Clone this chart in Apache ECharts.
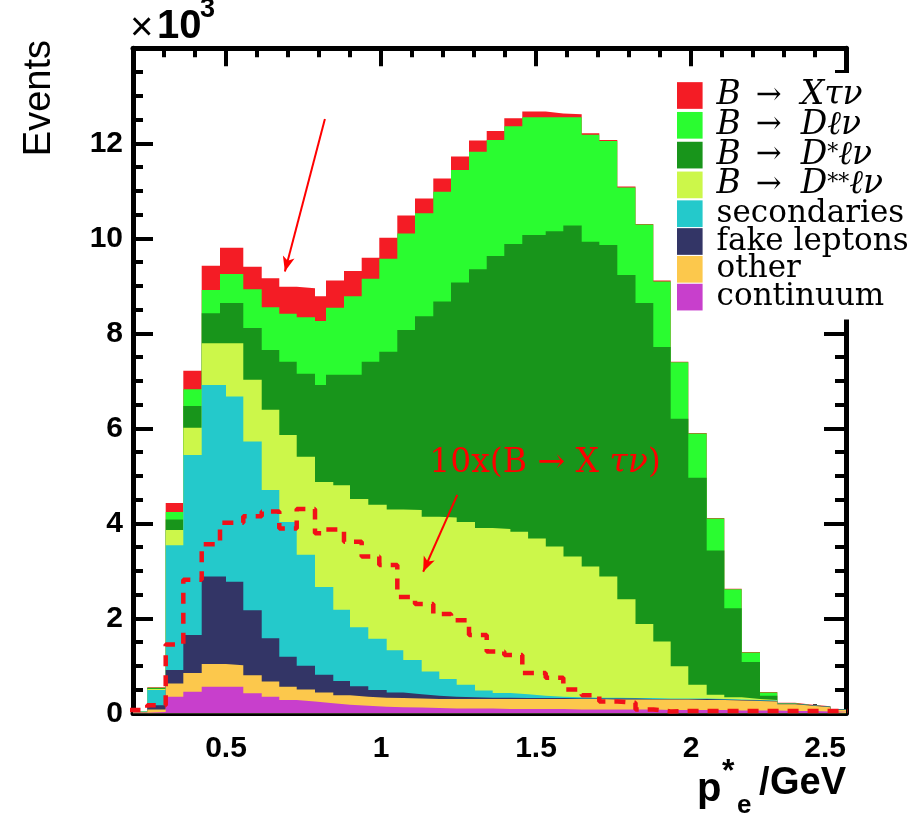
<!DOCTYPE html>
<html><head><meta charset="utf-8">
<script src="https://cdn.jsdelivr.net/npm/echarts@6/dist/echarts.min.js"></script>
<style>html,body{margin:0;padding:0;background:#fff}#c{width:921px;height:821px}</style>
</head><body><div id="c"></div>
<script>
// Bin edges (GeV): upper components (tau, D, D*) and lower components
const edgesUpper = [0.1887,0.2461,0.3055,0.3623,0.4216,0.4806,0.5558,0.6152,0.6719,0.7281,0.7871,0.8226,0.8806,0.9377,0.9945,1.0526,1.1097,1.1687,1.2258,1.2839,1.3410,1.3977,1.4558,1.5313,1.5881,1.6474,1.7042,1.7623,1.8210,1.8784,1.9345,1.9913,2.0506,2.1074,2.1635,2.2226,2.2784,2.3355,2.3926,2.4497,2.5065];
const edgesLower = [0.1887,0.2461,0.3055,0.3623,0.4216,0.5000,0.5558,0.6152,0.6719,0.7281,0.7871,0.8461,0.9000,0.9590,1.0184,1.0719,1.1313,1.1881,1.2442,1.3032,1.3603,1.4174,1.4745,1.5316,1.5887,1.6474,1.7042,1.7623,1.8210,1.8784,1.9345,1.9913,2.0506,2.1074,2.1635,2.2226,2.2784,2.3355,2.3926,2.4497,2.5065];

// Stack tops (events x 10^3)
const topTau   = [0.05,0.55,4.43,7.21,9.42,9.80,9.40,9.16,8.98,8.95,8.78,9.11,9.31,9.59,10.01,10.48,10.84,11.26,11.72,12.06,12.26,12.53,12.67,12.63,12.61,12.21,12.07,11.09,10.30,9.11,7.40,5.90,4.11,2.62,1.29,0.45,0.22,0.18,0.15,0.09];
const topD     = [0.05,0.54,4.24,6.82,8.91,9.25,8.93,8.55,8.41,8.34,8.26,8.54,8.78,9.15,9.57,10.10,10.53,10.98,11.44,11.82,12.07,12.36,12.55,12.55,12.55,12.18,12.05,11.07,10.29,9.09,7.39,5.89,4.10,2.61,1.28,0.44,0.21,0.17,0.14,0.08];
const topDstar = [0.05,0.53,4.08,6.47,8.42,8.64,8.11,7.65,7.40,7.15,6.91,7.13,7.13,7.40,7.61,8.07,8.36,8.67,9.07,9.35,9.63,9.88,10.07,10.15,10.27,9.93,9.86,9.23,8.64,7.71,6.20,4.96,3.43,2.21,1.08,0.37,0.20,0.16,0.13,0.08];
const topDss   = [0.045,0.51,3.86,6.01,7.79,7.79,7.02,6.39,5.86,5.40,4.87,4.80,4.51,4.39,4.29,4.28,4.14,4.12,4.03,3.90,3.88,3.82,3.68,3.51,3.30,3.09,2.88,2.40,1.88,1.51,0.99,0.60,0.39,0.34,0.30,0.28,0.20,0.17,0.14,0.08];
const topSec   = [0.04,0.49,3.54,5.44,6.91,6.67,5.72,4.70,4.03,3.34,2.66,2.18,1.81,1.57,1.33,1.12,0.88,0.72,0.60,0.48,0.43,0.40,0.37,0.35,0.34,0.33,0.33,0.32,0.32,0.31,0.31,0.31,0.30,0.29,0.28,0.27,0.20,0.17,0.14,0.08];
const topFake  = [0.03,0.17,0.91,1.65,2.88,2.77,2.17,1.58,1.19,1.00,0.81,0.68,0.57,0.49,0.44,0.40,0.37,0.35,0.34,0.33,0.33,0.32,0.32,0.32,0.31,0.31,0.31,0.31,0.30,0.30,0.30,0.30,0.29,0.28,0.27,0.26,0.20,0.17,0.14,0.08];
const topOther = [0.02,0.08,0.63,0.85,1.04,1.01,0.80,0.67,0.56,0.50,0.44,0.38,0.35,0.33,0.32,0.31,0.30,0.30,0.30,0.30,0.30,0.30,0.30,0.30,0.30,0.30,0.29,0.29,0.29,0.29,0.29,0.28,0.28,0.27,0.26,0.25,0.19,0.16,0.13,0.07];
const topCont  = [0.01,0.03,0.35,0.455,0.56,0.56,0.42,0.35,0.28,0.25,0.21,0.18,0.16,0.14,0.13,0.12,0.11,0.10,0.10,0.10,0.09,0.09,0.09,0.09,0.08,0.08,0.08,0.08,0.08,0.07,0.07,0.07,0.07,0.06,0.06,0.06,0.05,0.05,0.04,0.03];
// 10 x (B -> X tau nu), dashed
const tau10x   = [0.07,0.17,1.45,2.81,3.56,4.01,4.15,4.25,3.89,4.30,3.79,3.87,3.61,3.30,3.12,2.45,2.30,2.09,1.96,1.65,1.30,1.23,0.85,0.75,0.50,0.38,0.25,0.22,0.08,0.04,0.05,0.05,0.05,0.05,0.05,0.05,0.05,0.05,0.05,0.05];

const names  = ['B → Xτν','B → Dℓν','B → D*ℓν','B → D**ℓν','secondaries','fake leptons','other','continuum'];
const colors = ['#f41c25','#2afc30','#18951b','#ccf74a','#24c9cb','#333566','#fcc84c','#c83fcc'];
const tops   = [topTau, topD, topDstar, topDss, topSec, topFake, topOther, topCont];
const edgeOf = [edgesUpper, edgesUpper, edgesUpper, edgesLower, edgesLower, edgesLower, edgesLower, edgesLower];
const xLabelValues = [0.5, 1, 1.5, 2, 2.5];
const xMajorTickValues = [0.5, 1, 1.5, 2];

function stepData(edges, vals) {
  const d = vals.map((v, i) => [edges[i], v]);
  d.push([edges[vals.length], vals[vals.length - 1]]);
  return d;
}

const LH = 26;
const legendRich = {
  m:  {fontFamily:'DejaVu Serif', fontStyle:'italic', fontSize:33, color:'#000', lineHeight:LH},
  r:  {fontFamily:'DejaVu Serif', fontSize:31, color:'#000', lineHeight:LH},
  ar: {fontFamily:'DejaVu Serif', fontSize:31, color:'#000', lineHeight:LH, padding:[0,19,0,15]},
  s:  {fontFamily:'DejaVu Serif', fontSize:22, color:'#000', lineHeight:LH, verticalAlign:'top'}
};
const legendFmt = {
  'B → Xτν':   '{m|B}{ar|→}{m|Xτν}',
  'B → Dℓν':   '{m|B}{ar|→}{m|Dℓν}',
  'B → D*ℓν':  '{m|B}{ar|→}{m|D}{s|*}{m|ℓν}',
  'B → D**ℓν': '{m|B}{ar|→}{m|D}{s|**}{m|ℓν}'
};

const series = names.map((n, k) => ({
  name: n, type: 'line', step: 'end', symbol: 'none', animation: false,
  xAxisIndex: 0, yAxisIndex: 0,
  data: stepData(edgeOf[k], tops[k]),
  color: colors[k],
  itemStyle: {color: colors[k]},
  lineStyle: {width: 0, color: colors[k]},
  areaStyle: {color: colors[k], opacity: 1},
  emphasis: {disabled: true}
}));

series.push({
  name: '10x', type: 'line', step: 'end', symbol: 'none', animation: false,
  xAxisIndex: 0, yAxisIndex: 0, z: 5,
  data: stepData(edgesUpper, tau10x),
  lineStyle: {color: '#f21018', width: 4.5, type: [11, 9]},
  emphasis: {disabled: true},
  markLine: {
    silent: true, animation: false, symbol: ['none', 'arrow'], symbolSize: [9, 15],
    lineStyle: {color: '#f00', width: 2, type: 'solid'}, label: {show: false},
    data: [
      [{coord: [0.819, 12.51]}, {coord: [0.690, 9.30]}],
      [{coord: [1.246, 4.60]}, {coord: [1.136, 2.98]}]
    ]
  },
  markPoint: {
    silent: true, animation: false, symbol: 'circle', symbolSize: 0,
    data: [{coord: [1.529, 5.27]}],
    label: {
      show: true, position: 'inside',
      formatter: '{t|10x(B → X }{u|τν}{t|)}',
      rich: {
        t: {fontFamily: 'DejaVu Serif', fontSize: 33, color: '#f00'},
        u: {fontFamily: 'DejaVu Serif', fontStyle: 'italic', fontSize: 33, color: '#f00'}
      }
    }
  }
});

const axisLineStyle = {show: true, lineStyle: {color: '#000', width: 5}};
const tickFont = {fontFamily: 'Liberation Sans', fontWeight: 'bold', fontSize: 30, color: '#000'};

const option = {
  backgroundColor: '#fff',
  animation: false,
  grid: {left: 133, right: 75, top: 48.3, bottom: 107.7, containLabel: false},
  xAxis: [
    {type: 'value', min: 0.2, max: 2.5, position: 'bottom',
     axisLine: axisLineStyle,
     axisTick: {show: true, inside: true, length: 18, customValues: xMajorTickValues, lineStyle: {color: '#000', width: 4}},
     axisLabel: Object.assign({show: true, margin: 20, customValues: xLabelValues, alignMaxLabel: 'right'}, tickFont),
     splitLine: {show: false}},
    {type: 'value', min: 0.2, max: 2.5, interval: 0.1, position: 'bottom',
     axisLine: {show: false},
     axisTick: {show: true, inside: true, length: 9, lineStyle: {color: '#000', width: 4}},
     axisLabel: {show: false}, splitLine: {show: false}},
    {type: 'value', min: 0.2, max: 2.5, position: 'top',
     axisLine: axisLineStyle,
     axisTick: {show: true, inside: true, length: 18, customValues: xMajorTickValues, lineStyle: {color: '#000', width: 4}},
     axisLabel: {show: false}, splitLine: {show: false}},
    {type: 'value', min: 0.2, max: 2.5, interval: 0.1, position: 'top',
     axisLine: {show: false},
     axisTick: {show: true, inside: true, length: 9, lineStyle: {color: '#000', width: 4}},
     axisLabel: {show: false}, splitLine: {show: false}}
  ],
  yAxis: [
    {type: 'value', min: 0, max: 14, interval: 2, position: 'left',
     axisLine: axisLineStyle,
     axisTick: {show: true, inside: true, length: 20, lineStyle: {color: '#000', width: 4}},
     minorTick: {show: true, splitNumber: 4, length: 10, lineStyle: {color: '#000', width: 4}},
     axisLabel: Object.assign({show: true, margin: 10, formatter: v => (v === 14 ? '' : String(v))}, tickFont),
     splitLine: {show: false}, minorSplitLine: {show: false}},
    {type: 'value', min: 0, max: 14, interval: 2, position: 'right',
     axisLine: axisLineStyle,
     axisTick: {show: true, inside: true, length: 22, lineStyle: {color: '#000', width: 4}},
     minorTick: {show: true, splitNumber: 4, length: 11, lineStyle: {color: '#000', width: 4}},
     axisLabel: {show: false}, splitLine: {show: false}, minorSplitLine: {show: false}}
  ],
  legend: {
    data: names, orient: 'vertical', left: 672, top: 73, padding: [6, 5, 7, 5],
    icon: 'rect', itemWidth: 25.6, itemHeight: 26.7, itemGap: -3.2,
    selectedMode: false, backgroundColor: '#fff',
    formatter: n => legendFmt[n] || ('{r|' + n + '}'),
    textStyle: {fontFamily: 'DejaVu Serif', fontSize: 31, color: '#000', lineHeight: LH, padding: [0, 0, 0, 9], rich: legendRich}
  },
  graphic: [
    {type: 'text', x: 40, y: 40, rotation: Math.PI / 2,
     style: {text: 'Events', font: '38px "Liberation Sans"', fill: '#000', align: 'right', verticalAlign: 'middle'}},
    {type: 'text', x: 130, y: 29,
     style: {text: '×', font: '40px "Liberation Sans"', fill: '#000', align: 'left', verticalAlign: 'middle'}},
    {type: 'text', x: 157, y: 27,
     style: {text: '10', font: 'bold 40px "Liberation Sans"', fill: '#000', align: 'left', verticalAlign: 'middle'}},
    {type: 'text', x: 200, y: 10,
     style: {text: '3', font: 'bold 27px "Liberation Sans"', fill: '#000', align: 'left', verticalAlign: 'middle'}},
    {type: 'text', x: 697, y: 790,
     style: {text: 'p', font: 'bold 40px "Liberation Sans"', fill: '#000', align: 'left', verticalAlign: 'middle'}},
    {type: 'text', x: 722, y: 772,
     style: {text: '*', font: 'bold 32px "Liberation Sans"', fill: '#000', align: 'left', verticalAlign: 'middle'}},
    {type: 'text', x: 737, y: 806,
     style: {text: 'e', font: 'bold 26px "Liberation Sans"', fill: '#000', align: 'left', verticalAlign: 'middle'}},
    {type: 'text', x: 759, y: 784,
     style: {text: '/', font: 'bold 38px "Liberation Sans"', fill: '#000', align: 'left', verticalAlign: 'middle'}},
    {type: 'text', x: 846, y: 784,
     style: {text: 'GeV', font: 'bold 38px "Liberation Sans"', fill: '#000', align: 'right', verticalAlign: 'middle'}}
  ],
  series: series
};

const chart = echarts.init(document.getElementById('c'), null, {renderer: 'canvas'});
chart.setOption(option);
</script>
</body></html>
